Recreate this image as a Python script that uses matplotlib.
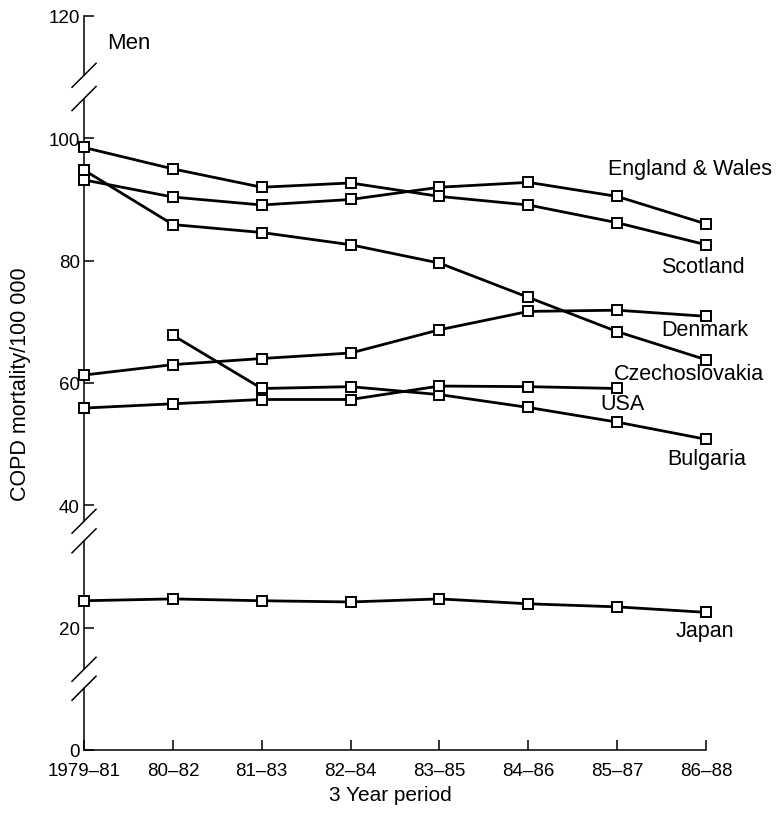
import matplotlib
matplotlib.use('Agg')
import matplotlib.pyplot as plt
from matplotlib.transforms import blended_transform_factory

plt.rcParams['font.family'] = ['Liberation Sans', 'DejaVu Sans']

# COPD mortality per 100 000, men, 3 year periods
periods = ['1979–81', '80–82', '81–83', '82–84', '83–85', '84–86', '85–87', '86–88']
england_wales = [93.2, 90.4, 89.1, 90.0, 92.0, 92.8, 90.5, 86.0]
scotland = [98.5, 95.0, 92.0, 92.7, 90.5, 89.1, 86.2, 82.6]
czechoslovakia = [94.8, 85.9, 84.6, 82.6, 79.6, 74.0, 68.4, 63.8]
denmark = [61.3, 63.0, 64.0, 64.9, 68.7, 71.7, 71.9, 70.9]
bulgaria = [None, 67.8, 59.1, 59.4, 58.1, 56.0, 53.6, 50.8]
usa = [55.9, 56.6, 57.3, 57.3, 59.5, 59.4, 59.1, None]
japan = [24.4, 24.7, 24.4, 24.2, 24.7, 23.9, 23.4, 22.5]

series = [england_wales, scotland, czechoslovakia, denmark, bulgaria, usa, japan]
names = ['England & Wales', 'Scotland', 'Czechoslovakia', 'Denmark', 'Bulgaria', 'USA', 'Japan']
# label anchor (x index, y value) for each name
label_pos = [(5.9, 95.0), (6.49, 79.0), (5.96, 61.6), (6.5, 68.7),
             (6.56, 47.7), (5.81, 56.6), (6.66, 19.5)]

fig = plt.figure(figsize=(7.81, 8.28), dpi=100)
ax = fig.add_axes([0.1076, 0.093, 0.7964, 0.8865])

for vals in series:
    xs = [i for i, v in enumerate(vals) if v is not None]
    ys = [v for v in vals if v is not None]
    ax.plot(xs, ys, color='black', lw=2.0, marker='s', markersize=7,
            markerfacecolor='white', markeredgecolor='black', markeredgewidth=1.4,
            clip_on=False, zorder=3)

for name, (lx, ly) in zip(names, label_pos):
    ax.text(lx, ly, name, fontsize=15.5, ha='left', va='center')

ax.text(0.26, 115.7, 'Men', fontsize=16, ha='left', va='center')

ax.set_xlim(0, len(periods) - 1)
ax.set_ylim(0, 120)
ax.set_xticks(range(len(periods)))
ax.set_xticklabels(periods, fontsize=13.5)
ax.set_yticks([0, 20, 40, 60, 80, 100, 120])
ax.tick_params(axis='both', direction='in', length=7, width=1.1, colors='black')
ax.tick_params(axis='x', pad=9)
ax.tick_params(axis='y', labelsize=13.5, pad=3)

for s in ['top', 'right', 'left']:
    ax.spines[s].set_visible(False)
ax.spines['bottom'].set_linewidth(1.1)

# broken y axis drawn by hand
tr = blended_transform_factory(ax.transAxes, ax.transData)
segments = [(0, 10.1), (13.2, 34.2), (37.4, 106.5), (110.3, 120)]
for y0, y1 in segments:
    ax.plot([0, 0], [y0, y1], color='black', lw=1.1, transform=tr, clip_on=False)
slashes = [10.1, 13.2, 34.2, 37.4, 106.5, 110.3]
dx = 12 / 622
dy = 12 / 6.117
for yc in slashes:
    ax.plot([-dx, dx], [yc - dy, yc + dy], color='black', lw=1.1,
            transform=tr, clip_on=False)

ax.set_ylabel('COPD mortality/100 000', fontsize=15.5)
ax.yaxis.set_label_coords(-0.085, 0.5)
ax.set_xlabel('3 Year period', fontsize=15)
ax.xaxis.set_label_coords(0.492, -0.048)

fig.savefig('out.png', dpi=100)
